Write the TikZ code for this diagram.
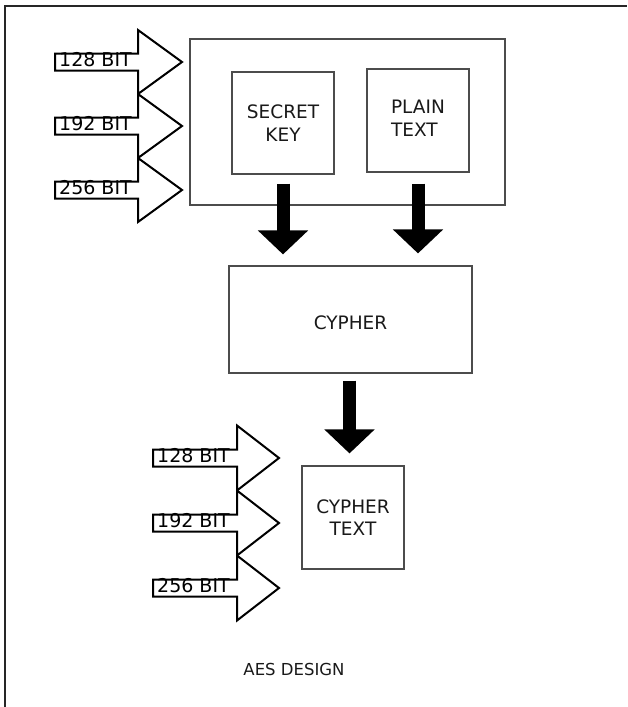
\documentclass[tikz,border=0pt]{standalone}
\usepackage{fontspec}
\setmainfont{DejaVu Sans}
\usetikzlibrary{arrows.meta,calc}
\begin{document}
\begin{tikzpicture}[x=1pt,y=-1pt,
  box/.style={draw=black!70, line width=1.2pt, fill=white, inner sep=0pt, align=center,
    text=black!90, font=\fontsize{18.5}{22.5}\selectfont},
  blockarrow/.style={draw=black, line width=2pt, fill=white, line join=miter},
  bitlabel/.style={anchor=base west, inner sep=0pt, font=\fontsize{19}{22}\selectfont, text=black},
  fatarrow/.style={line width=13pt, -{Triangle[width=49pt,length=24pt]}},
]
\useasboundingbox (0,0) rectangle (627,707);
\draw[line width=2pt, black!85] (5,707) -- (5,6) -- (627,6);

% boxes
\node[box, minimum width=315pt, minimum height=166pt] (outer) at (347.5,122) {};
\node[box, minimum width=102pt, minimum height=102pt] (sk) at (283,123) {SECRET\\KEY};
\node[box, minimum width=102pt, minimum height=103pt, align=left, text depth=4pt] (pt) at (418,120.5) {PLAIN\\TEXT};
\node[box, minimum width=243pt, minimum height=107pt] (cy) at (350.5,319.5) {};
\node[inner sep=0pt, text=black!90, font=\fontsize{18.5}{22.5}\selectfont] (cyl) at (350.5,323) {CYPHER};
\node[box, minimum width=102pt, minimum height=103pt] (ct) at (353,517.5) {CYPHER\\TEXT};

% thick arrows
\draw[fatarrow] ($(sk.south)+(0,9)$) -- ($(sk.south |- cy.north)+(0,-11)$);
\draw[fatarrow] ($(pt.south)+(0,11)$) -- ($(pt.south |- cy.north)+(0,-12)$);
\draw[fatarrow] ($(cy.south)+(-1,7)$) -- ($(cy.south |- ct.north)+(-1,-12)$);

% key-size block arrows (top group)
\foreach \c/\t in {62/128,126/192,190/256}{
  \draw[blockarrow] (55,\c-8.5) -- (138,\c-8.5) -- (138,\c-32) -- (182,\c)
    -- (138,\c+32) -- (138,\c+8.5) -- (55,\c+8.5) -- cycle;
  \node[bitlabel] (ka\t) at (59,\c+4) {\t\ BIT};
}
% key-size block arrows (bottom group)
\foreach \c/\t in {458/128,523/192,588/256}{
  \draw[blockarrow] (153,\c-8.5) -- (237,\c-8.5) -- (237,\c-32.5) -- (279,\c)
    -- (237,\c+32.5) -- (237,\c+8.5) -- (153,\c+8.5) -- cycle;
  \node[bitlabel] (kb\t) at (157,\c+4) {\t\ BIT};
}

\node[inner sep=0pt, text=black!90, font=\fontsize{16.5}{20}\selectfont] (title) at (294,669) {AES DESIGN};
\end{tikzpicture}
\end{document}
